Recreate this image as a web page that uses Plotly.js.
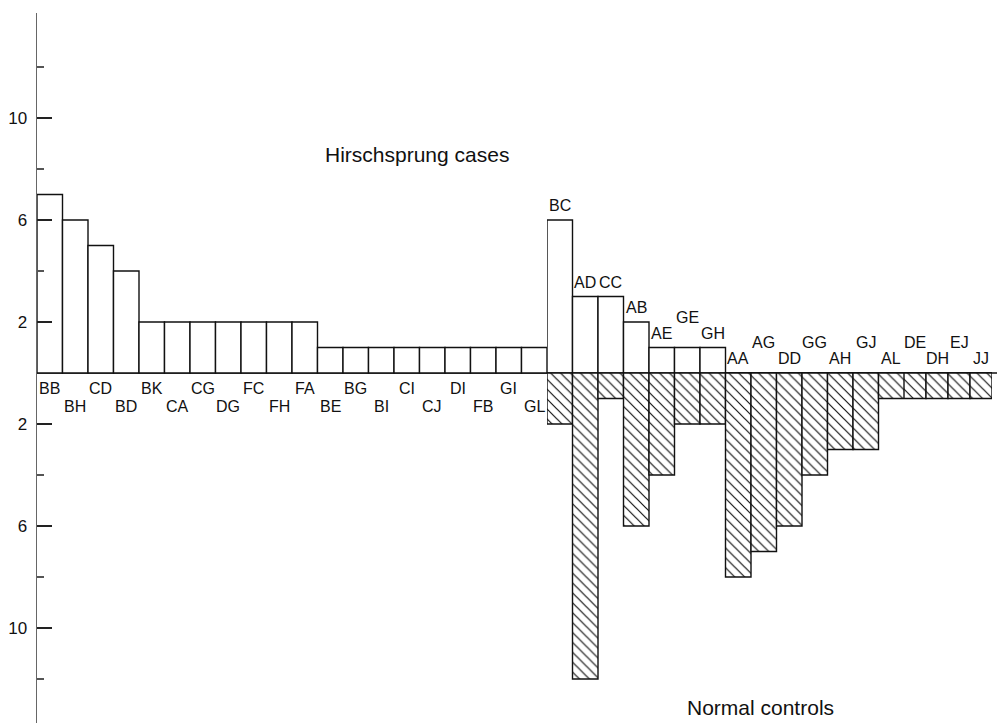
<!DOCTYPE html>
<html>
<head>
<meta charset="utf-8">
<script src="https://cdn.plot.ly/plotly-3.0.1.min.js"></script>
<style>
  html, body { margin: 0; padding: 0; background: #fff; }
  #chart { width: 997px; height: 723px; }
</style>
</head>
<body>
<div id="chart"></div>
<script>
// ---- Data ----
// Genotypes found only in Hirschsprung cases
const caseCats = ["BB","BH","CD","BD","BK","CA","CG","DG","FC","FH","FA",
                  "BE","BG","BI","CI","CJ","DI","FB","GI","GL"];
const caseVals = [7,6,5,4,2,2,2,2,2,2,2,1,1,1,1,1,1,1,1,1];

// Genotypes found in normal controls (and possibly cases)
const ctrlCats = ["BC","AD","CC","AB","AE","GE","GH","AA","AG","DD","GG",
                  "AH","GJ","AL","DE","DH","EJ","JJ"];
const ctrlCaseVals    = [6,3,3,2,1,1,1,0,0,0,0,0,0,0,0,0,0,0];
const ctrlControlVals = [2,12,1,6,4,2,2,8,7,6,4,3,3,1,1,1,1,1];

// Y tick labels (absolute counts on both sides of the baseline)
const majorTicks = [10, 6, 2, -2, -6, -10];
const majorTickText = ["10","6","2","2","6","10"];
const minorTicks = [12, 8, 4, -4, -8, -12];

// ---- Layout helpers (styling only) ----
const ctrlLabelLift = [0,0,0,0,0,1,0,0,1,0,1,0,1,0,1,0,1,0];
const SPLIT = 14;   // the last control bars are drawn slightly narrower in the original
const FONT = "Liberation Sans, Arial, Helvetica, sans-serif";
const LINE = {color: "#111", width: 1.4};
const HATCH = {shape: "\\", fgcolor: "#111", bgcolor: "#fff", size: 7, solidity: 0.17};

const traces = [
  {
    type: "bar", x: caseCats, y: caseVals, xaxis: "x", yaxis: "y",
    width: 1, marker: {color: "#fff", line: LINE}, hoverinfo: "x+y", cliponaxis: false
  }
];
[["x2", 0, SPLIT], ["x3", SPLIT, ctrlCats.length]].forEach(([ax, a, b]) => {
  traces.push({
    type: "bar", x: ctrlCats.slice(a, b), y: ctrlCaseVals.slice(a, b), xaxis: ax, yaxis: "y",
    width: 1, marker: {color: "#fff", line: LINE}, hoverinfo: "x+y", cliponaxis: false
  });
  traces.push({
    type: "bar", x: ctrlCats.slice(a, b), y: ctrlControlVals.slice(a, b).map(v => -v),
    xaxis: ax, yaxis: "y", width: 1,
    marker: {color: "#fff", line: LINE, pattern: HATCH},
    hoverinfo: "x+y", cliponaxis: false
  });
});

const annotations = [];
caseCats.forEach((c, i) => {
  annotations.push({
    x: c, xref: "x", y: 0, yref: "y", yanchor: "middle", xanchor: "center",
    yshift: (i % 2 === 0) ? -15 : -33, text: c, showarrow: false,
    font: {family: FONT, size: 16, color: "#111"}
  });
});
ctrlCats.forEach((c, i) => {
  annotations.push({
    x: c, xref: i < SPLIT ? "x2" : "x3", y: ctrlCaseVals[i], yref: "y",
    yanchor: "middle", xanchor: "center",
    yshift: 14.5 + ctrlLabelLift[i] * 16, text: c, showarrow: false,
    font: {family: FONT, size: 16, color: "#111"}
  });
});
annotations.push({
  text: "Hirschsprung cases", xref: "paper", x: 0.2979, xanchor: "left",
  yref: "y", y: 8.55, yanchor: "middle", showarrow: false,
  font: {family: FONT, size: 21, color: "#111"}
});
annotations.push({
  text: "Normal controls", xref: "paper", x: 0.675, xanchor: "left",
  yref: "y", y: -13.12, yanchor: "middle", showarrow: false,
  font: {family: FONT, size: 21, color: "#111"}
});

const hiddenX = {
  type: "category", showticklabels: false, ticks: "", showgrid: false,
  zeroline: false, showline: false, fixedrange: true, anchor: "y"
};

const layout = {
  width: 997, height: 723,
  margin: {l: 37, r: 0, t: 13, b: 0, pad: 0},
  paper_bgcolor: "#fff", plot_bgcolor: "#fff",
  showlegend: false,
  barmode: "overlay", bargap: 0,
  font: {family: FONT, color: "#111"},
  xaxis: Object.assign({}, hiddenX, {domain: [0, 510/960], range: [-0.5, caseCats.length - 0.5]}),
  xaxis2: Object.assign({}, hiddenX, {domain: [510/960, 867/960], range: [-0.5, SPLIT - 0.5]}),
  xaxis3: Object.assign({}, hiddenX, {domain: [867/960, 955/960],
                                      range: [-0.5, ctrlCats.length - SPLIT - 0.5]}),
  yaxis: {
    range: [-(723 - 373) / 25.5, (373 - 13) / 25.5],
    tickmode: "array", tickvals: majorTicks, ticktext: majorTickText,
    ticks: "inside", ticklen: 15, tickwidth: 1.4, tickcolor: "#222",
    minor: {tickmode: "array", tickvals: minorTicks, ticks: "inside", ticklen: 7,
            tickwidth: 1.2, tickcolor: "#555", showgrid: false},
    showline: true, linecolor: "#666", linewidth: 1.4,
    showgrid: false, zeroline: false,
    ticklabelstandoff: 5,
    tickfont: {family: FONT, size: 17, color: "#111"},
    fixedrange: true
  },
  shapes: [{
    type: "line", xref: "paper", x0: 0, x1: 1, yref: "y", y0: 0, y1: 0,
    line: {color: "#111", width: 1.4}, layer: "below"
  }],
  annotations: annotations
};

Plotly.newPlot("chart", traces, layout, {staticPlot: true, displayModeBar: false});
</script>
</body>
</html>
